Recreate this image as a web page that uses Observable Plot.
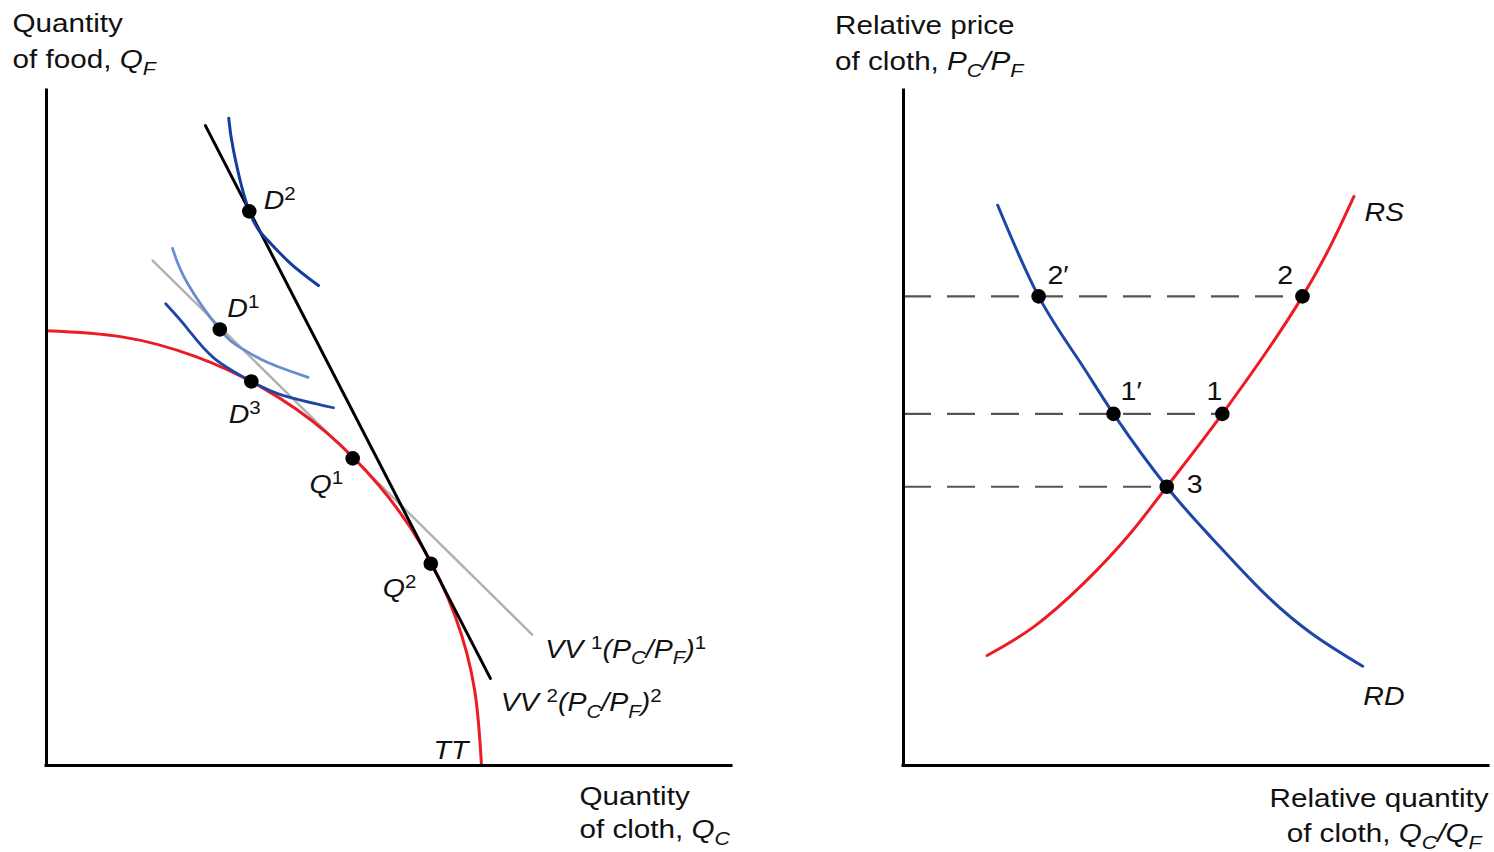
<!DOCTYPE html>
<html><head><meta charset="utf-8">
<script src="https://cdn.jsdelivr.net/npm/d3@7"></script>
<script src="https://cdn.jsdelivr.net/npm/@observablehq/plot@0.6"></script>
<style>
html,body{margin:0;padding:0;background:#fff;}
#wrap{position:relative;width:1494px;height:852px;overflow:hidden;}
#left{position:absolute;left:0;top:0;width:760px;height:852px;}
#right{position:absolute;left:760px;top:0;width:734px;height:852px;}
svg{overflow:visible}
</style></head><body>
<div id="wrap"><div id="left"></div><div id="right"></div></div>
<script>
// ---------- Left panel data (abstract units 0..100) ----------
const ttCurve = [[0,64.4],[11.0,63.5],[21.7,60.6],[31.8,55.8],[40.8,49.4],[48.6,41.4],[55.0,32.2],[59.7,22.0],[62.5,11.2],[63.5,0]];
const vv1Line = [[15.5,74.8],[70.9,19.4]];
const vv2Line = [[23.2,94.8],[64.8,12.9]];
const icD2 = [[26.6,95.9],[27.3,91.1],[29.6,82.1],[32.3,77.8],[35.6,74.4],[39.7,71.1]];
const icD1 = [[18.4,76.6],[20.6,71.4],[25.3,64.6],[28.3,61.9],[32.3,59.7],[38.2,57.5]];
const icD3 = [[17.4,68.4],[20.6,64.7],[24.4,60.4],[29.9,56.9],[34.6,54.8],[41.9,53.0]];
const leftPoints = [
  {name:"D2", x:29.6, y:82.1},
  {name:"D1", x:25.3, y:64.6},
  {name:"D3", x:29.9, y:56.9},
  {name:"Q1", x:44.7, y:45.5},
  {name:"Q2", x:56.1, y:29.9}
];
const leftTitles = [
  {text:"Quantity", x:-4.96, y:108.6},
  {text:"of food, $Q_F$", x:-4.96, y:103.4},
  {text:"Quantity", x:77.8, y:-5.8},
  {text:"of cloth, $Q_C$", x:77.8, y:-10.8}
];
const leftLabels = [
  {text:"$D$^2", x:31.7, y:82.5},
  {text:"$D$^1", x:26.4, y:66.4},
  {text:"$D$^3", x:26.6, y:50.8},
  {text:"$Q$^1", x:38.4, y:40.4},
  {text:"$Q$^2", x:49.1, y:24.9},
  {text:"$TT$", x:56.5, y:1.0},
  {text:"$VV$ ^1$(P_C/P_F)$^1", x:72.8, y:16.0},
  {text:"$VV$ ^2$(P_C/P_F)$^2", x:66.3, y:8.1}
];

// ---------- Right panel data (abstract units 0..100) ----------
const rdCurve = [[16.1,83.0],[23.1,69.5],[30.0,60.0],[35.9,52.1],[45.0,41.3],[52.8,33.6],[61.2,25.9],[69.7,19.6],[78.5,14.7]];
const rsCurve = [[14.3,16.3],[22.2,20.5],[30.7,26.9],[38.5,34.1],[45.0,41.3],[54.5,52.1],[68.2,69.5],[77.0,84.3]];
const rightPoints = [
  {name:"2′", x:23.1, y:69.5},
  {name:"2",  x:68.2, y:69.5},
  {name:"1′", x:35.9, y:52.1},
  {name:"1",  x:54.5, y:52.1},
  {name:"3",  x:45.0, y:41.3}
];
const priceLevels = [
  {y:69.5, xEnd:68.2},
  {y:52.1, xEnd:54.5},
  {y:41.3, xEnd:45.0}
];
const rightTitlesStart = [
  {text:"Relative price", x:-11.7, y:108.4},
  {text:"of cloth, $P_C/P_F$", x:-11.7, y:103.0}
];
const rightTitlesEnd = [
  {text:"Relative quantity", x:100, y:-6.2},
  {text:"of cloth, $Q_C/Q_F$", x:98.8, y:-11.4}
];
const rightLabels = [
  {text:"$RS$", x:78.8, y:80.7},
  {text:"$RD$", x:78.6, y:8.9},
  {text:"2′", x:24.6, y:71.4},
  {text:"2",  x:63.9, y:71.4},
  {text:"1′", x:37.1, y:54.1},
  {text:"1",  x:51.8, y:54.1},
  {text:"3",  x:48.4, y:40.3}
];

// ---------- styling ----------
const FONT = "'Liberation Sans', Arial, Helvetica, sans-serif";
const RED = "#ec1c24", BLUE = "#1d46a6", DARKBLUE = "#123c9e", LIGHTBLUE = "#6a8dd0";
const SX = 1.14;
const LW = 3;

function enrich(svg) {
  svg.querySelectorAll("text").forEach(el => {
    let tr = el.getAttribute("transform") || "";
    const ax = el.getAttribute("x"), ay = el.getAttribute("y");
    if (ax && !String(ax).endsWith("em")) { tr += ` translate(${ax},0)`; el.removeAttribute("x"); }
    if (ay && !String(ay).endsWith("em")) { tr += ` translate(0,${ay})`; el.removeAttribute("y"); }
    el.setAttribute("transform", tr + ` scale(${SX},1)`);
    const s = el.textContent;
    if (!/[$_^]/.test(s)) return;
    const fs = parseFloat(getComputedStyle(el).fontSize) || 25;
    el.textContent = "";
    let italic = false, level = 0, i = 0;
    while (i < s.length) {
      let c = s[i];
      if (c === "$") { italic = !italic; i++; continue; }
      let mode = 0;
      if (c === "_") { mode = 1; i++; c = s[i]; }
      else if (c === "^") { mode = -1; i++; c = s[i]; }
      i++;
      const target = mode === 1 ? 0.27 * fs : mode === -1 ? -0.36 * fs : 0;
      const t = document.createElementNS("http://www.w3.org/2000/svg", "tspan");
      t.textContent = c;
      if (italic) t.setAttribute("font-style", "italic");
      if (mode) t.setAttribute("font-size", (0.72 * fs) + "px");
      if (target !== level) { t.setAttribute("dy", target - level); level = target; }
      el.appendChild(t);
    }
  });
}

const left = Plot.plot({
  width: 760, height: 852,
  marginLeft: 46, marginRight: 29, marginTop: 90, marginBottom: 87,
  x: {domain: [0, 100], axis: null},
  y: {domain: [0, 100], axis: null},
  style: {fontFamily: FONT, background: "white", overflow: "visible"},
  marks: [
    Plot.line(vv1Line, {stroke: "#b0b0b0", strokeWidth: 2.4}),
    Plot.line(ttCurve, {curve: "natural", stroke: RED, strokeWidth: LW}),
    Plot.line(vv2Line, {stroke: "black", strokeWidth: LW}),
    Plot.line(icD1, {curve: "natural", stroke: LIGHTBLUE, strokeWidth: 2.8}),
    Plot.line(icD3, {curve: "natural", stroke: BLUE, strokeWidth: 2.8}),
    Plot.line(icD2, {curve: "natural", stroke: DARKBLUE, strokeWidth: LW}),
    Plot.ruleX([0], {y1: 0, y2: 100, stroke: "black", strokeWidth: 3, strokeLinecap: "square"}),
    Plot.ruleY([0], {x1: 0, x2: 100, stroke: "black", strokeWidth: 3, strokeLinecap: "square"}),
    Plot.dot(leftPoints, {x: "x", y: "y", r: 7.3, fill: "black"}),
    Plot.text(leftTitles, {x: "x", y: "y", text: "text", textAnchor: "start", lineAnchor: "bottom", fontSize: 26, fill: "#111"}),
    Plot.text(leftLabels, {x: "x", y: "y", text: "text", textAnchor: "start", lineAnchor: "bottom", fontSize: 25, fill: "#111"})
  ]
});

const right = Plot.plot({
  width: 734, height: 852,
  marginLeft: 143, marginRight: 6, marginTop: 90, marginBottom: 87,
  x: {domain: [0, 100], axis: null},
  y: {domain: [0, 100], axis: null},
  style: {fontFamily: FONT, background: "white", overflow: "visible"},
  marks: [
    Plot.ruleY(priceLevels, {y: "y", x1: 0, x2: "xEnd", stroke: "#555", strokeWidth: 2.2, strokeDasharray: "28,16"}),
    Plot.line(rsCurve, {curve: "natural", stroke: RED, strokeWidth: LW}),
    Plot.line(rdCurve, {curve: "natural", stroke: BLUE, strokeWidth: LW}),
    Plot.ruleX([0], {y1: 0, y2: 100, stroke: "black", strokeWidth: 3, strokeLinecap: "square"}),
    Plot.ruleY([0], {x1: 0, x2: 100, stroke: "black", strokeWidth: 3, strokeLinecap: "square"}),
    Plot.dot(rightPoints, {x: "x", y: "y", r: 7.3, fill: "black"}),
    Plot.text(rightTitlesStart, {x: "x", y: "y", text: "text", textAnchor: "start", lineAnchor: "bottom", fontSize: 26, fill: "#111"}),
    Plot.text(rightTitlesEnd, {x: "x", y: "y", text: "text", textAnchor: "end", lineAnchor: "bottom", fontSize: 26, fill: "#111"}),
    Plot.text(rightLabels, {x: "x", y: "y", text: "text", textAnchor: "start", lineAnchor: "bottom", fontSize: 25, fill: "#111"})
  ]
});

document.getElementById("left").appendChild(left);
document.getElementById("right").appendChild(right);
enrich(left);
enrich(right);
</script>
</body></html>
